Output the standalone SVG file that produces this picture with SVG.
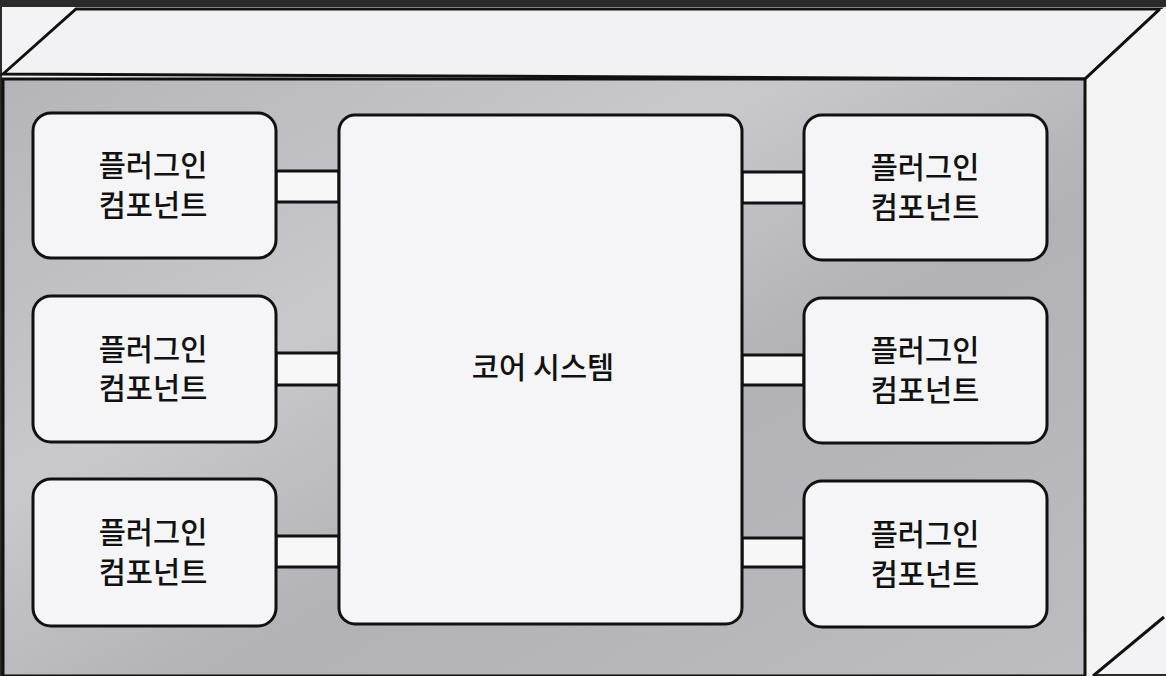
<svg xmlns="http://www.w3.org/2000/svg" width="1166" height="676" viewBox="0 0 1166 676">
<defs>
<linearGradient id="front" x1="0" y1="0" x2="1" y2="1">
<stop offset="0" stop-color="#b4b4b9"/>
<stop offset="0.35" stop-color="#c9c9cd"/>
<stop offset="0.6" stop-color="#b1b1b6"/>
<stop offset="1" stop-color="#bdbdc1"/>
</linearGradient>
<style>
.frame{fill:#f2f2f4;stroke:#111;stroke-width:3;stroke-linejoin:miter}
.box{fill:#f5f5f7;stroke:#111;stroke-width:3}
.link{fill:#f7f7f8;stroke:#111;stroke-width:3}
.t{font-family:"Noto Sans CJK KR","Noto Sans",sans-serif;font-size:29.5px;font-weight:500;fill:#111;text-anchor:middle}
</style>
</defs>
<rect x="0" y="0" width="1166" height="676" fill="#f3f3f5"/>
<rect x="0" y="0" width="1166" height="7" fill="#2a2a2a"/>
<rect x="0" y="0" width="2" height="676" fill="#2a2a2a"/>
<rect x="0" y="674" width="1166" height="2" fill="#2a2a2a"/>
<g id="cube">
<polygon class="frame" points="3,74 76,9 1160,9 1085,79"/>
<polygon points="1085,79 1160,9 1164,9 1164,617 1093,676 1085,676" fill="#f4f4f5" stroke="none"/>
<path d="M1085,79 L1160,9 M1164,617 L1093,676" fill="none" stroke="#111" stroke-width="3"/>
<rect x="3" y="79" width="1082" height="597" fill="url(#front)" stroke="#111" stroke-width="3"/>
</g>
<g id="connectors">
<rect class="link" x="276" y="171" width="63" height="31"/>
<rect class="link" x="276" y="353" width="63" height="32"/>
<rect class="link" x="276" y="536" width="63" height="31"/>
<rect class="link" x="742" y="172" width="62" height="31"/>
<rect class="link" x="742" y="355" width="62" height="30"/>
<rect class="link" x="742" y="538" width="62" height="29"/>
</g>
<g id="core">
<rect class="box" x="339" y="115" width="403" height="509" rx="16"/>
<text class="t" x="543" y="378">코어 시스템</text>
</g>
<g id="plugin-l1">
<rect class="box" x="33" y="113" width="243" height="145" rx="18"/>
<text class="t" x="153" y="176">플러그인</text>
<text class="t" x="153" y="216">컴포넌트</text>
</g>
<g id="plugin-l2">
<rect class="box" x="33" y="296" width="243" height="146" rx="18"/>
<text class="t" x="153" y="360">플러그인</text>
<text class="t" x="153" y="399">컴포넌트</text>
</g>
<g id="plugin-l3">
<rect class="box" x="33" y="479" width="243" height="147" rx="18"/>
<text class="t" x="153" y="543">플러그인</text>
<text class="t" x="153" y="583">컴포넌트</text>
</g>
<g id="plugin-r1">
<rect class="box" x="804" y="115" width="243" height="145" rx="18"/>
<text class="t" x="925" y="178">플러그인</text>
<text class="t" x="925" y="218">컴포넌트</text>
</g>
<g id="plugin-r2">
<rect class="box" x="804" y="298" width="243" height="145" rx="18"/>
<text class="t" x="925" y="361">플러그인</text>
<text class="t" x="925" y="401">컴포넌트</text>
</g>
<g id="plugin-r3">
<rect class="box" x="804" y="481" width="243" height="146" rx="18"/>
<text class="t" x="925" y="545">플러그인</text>
<text class="t" x="925" y="585">컴포넌트</text>
</g>
</svg>
